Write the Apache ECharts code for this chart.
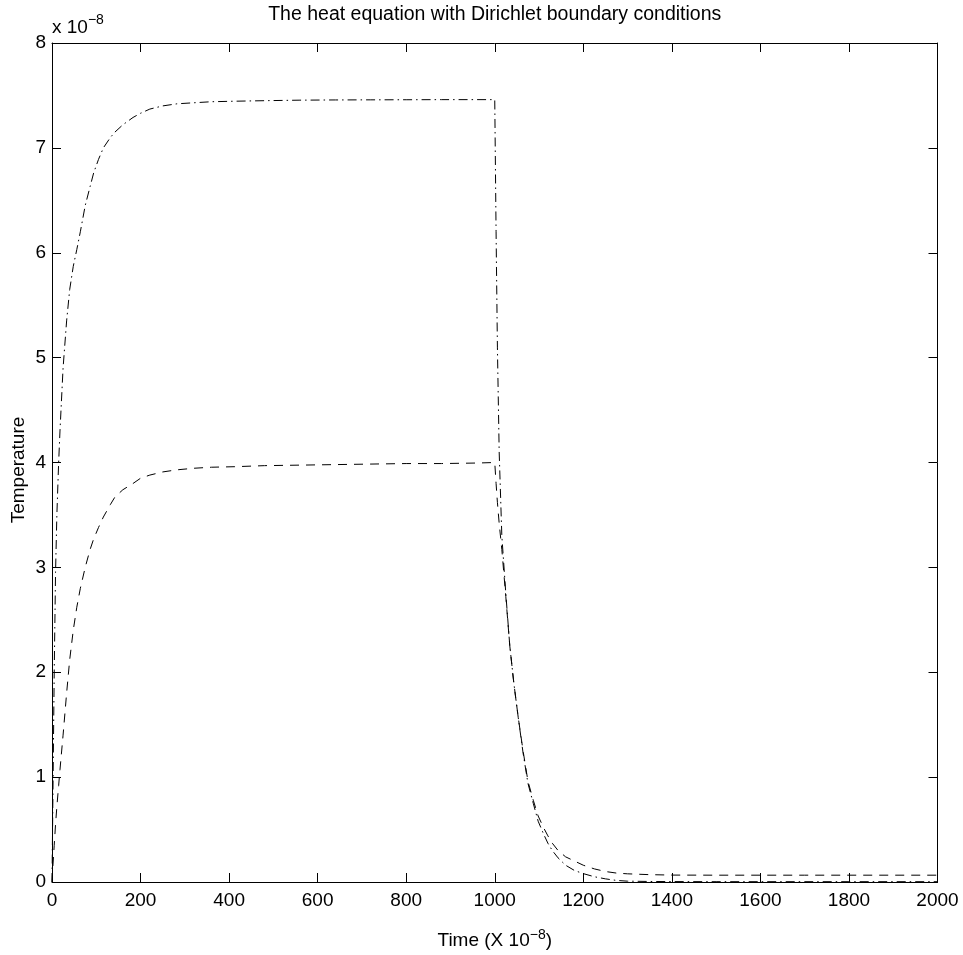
<!DOCTYPE html>
<html>
<head>
<meta charset="utf-8">
<script src="https://cdn.jsdelivr.net/npm/echarts@6/dist/echarts.min.js"></script>
<style>html,body{margin:0;padding:0;background:#fff}#c{width:963px;height:955px}</style>
</head>
<body>
<div id="c"></div>
<script>
// Time samples (units of 1e-8)
const time = [0, 2, 5, 8, 11, 15, 18, 25, 33, 40, 48, 56, 64, 75, 86, 94, 105, 116, 132, 142, 160, 183, 200, 221, 250, 282, 320, 360, 413, 480, 560, 640, 720, 800, 880, 960, 1000,
  1003, 1006, 1010, 1016, 1025, 1034, 1043, 1053, 1064, 1075, 1087, 1098, 1110, 1120, 1130, 1143, 1160, 1180, 1200, 1225, 1250, 1275, 1300, 1350, 1400, 1500, 1600, 1700, 1800, 1900, 2000];
// Temperature values (units of 1e-8), dash-dot curve
const dashDotTemp = [0, 0.8, 2.0, 2.95, 3.5, 4.0, 4.3, 4.9, 5.35, 5.65, 5.87, 6.03, 6.2, 6.45, 6.63, 6.76, 6.89, 7.0, 7.1, 7.15, 7.22, 7.29, 7.33, 7.37, 7.4, 7.42, 7.43, 7.44, 7.445, 7.45, 7.455, 7.457, 7.458, 7.459, 7.46, 7.46, 7.46,
  6.2, 5.1, 4.1, 3.3, 2.75, 2.25, 1.9, 1.57, 1.23, 0.94, 0.75, 0.58, 0.46, 0.37, 0.3, 0.23, 0.16, 0.11, 0.08, 0.05, 0.03, 0.015, 0.008, 0.005, 0.004, 0.003, 0.003, 0.003, 0.003, 0.003, 0.003];
// Temperature values (units of 1e-8), dashed curve
const dashedTemp = [0, 0.15, 0.35, 0.55, 0.72, 0.92, 1.07, 1.4, 1.8, 2.12, 2.4, 2.62, 2.8, 3.0, 3.17, 3.27, 3.38, 3.48, 3.6, 3.67, 3.74, 3.8, 3.85, 3.88, 3.91, 3.93, 3.945, 3.955, 3.96, 3.97, 3.975, 3.98, 3.985, 3.99, 3.99, 3.995, 4.0,
  3.8, 3.62, 3.42, 3.17, 2.72, 2.25, 1.9, 1.57, 1.25, 0.96, 0.78, 0.63, 0.52, 0.44, 0.37, 0.3, 0.24, 0.2, 0.16, 0.125, 0.1, 0.085, 0.078, 0.07, 0.066, 0.065, 0.065, 0.065, 0.065, 0.065, 0.065];

const xMin = 0, xMax = 2000, xStep = 200;
const yMin = 0, yMax = 8, yStep = 1;

const FONT = "'Liberation Sans', Arial, sans-serif";
const chart = echarts.init(document.getElementById('c'), null, {renderer: 'canvas'});

const L = 52, R = 937.5, T = 43, B = 882;
const axisLine = {show: true, onZero: false, lineStyle: {color: '#000', width: 1}};
const tick = {show: true, inside: true, length: 9, lineStyle: {color: '#000', width: 1}};
const lbl = {color: '#000', fontSize: 19, fontFamily: FONT, formatter: (v) => String(v)};

const pairs = (ys) => time.map((t, i) => [t, ys[i]]);

chart.setOption({
  animation: false,
  backgroundColor: '#fff',
  grid: {left: L, right: 963 - R, top: T, bottom: 955 - B, containLabel: false},
  xAxis: [
    {type: 'value', position: 'bottom', min: xMin, max: xMax, interval: xStep,
     axisLine: axisLine, axisTick: tick, splitLine: {show: false},
     axisLabel: Object.assign({margin: 9}, lbl)},
    {type: 'value', position: 'top', min: xMin, max: xMax, interval: xStep,
     axisLine: axisLine, axisTick: tick, splitLine: {show: false}, axisLabel: {show: false}}
  ],
  yAxis: [
    {type: 'value', position: 'left', min: yMin, max: yMax, interval: yStep,
     axisLine: axisLine, axisTick: tick, splitLine: {show: false},
     axisLabel: Object.assign({margin: 6}, lbl)},
    {type: 'value', position: 'right', min: yMin, max: yMax, interval: yStep,
     axisLine: axisLine, axisTick: tick, splitLine: {show: false}, axisLabel: {show: false}}
  ],
  series: [
    {type: 'line', xAxisIndex: 0, yAxisIndex: 0, data: pairs(dashDotTemp), showSymbol: false, symbol: 'none',
     lineStyle: {color: '#000', width: 1, type: [9, 4, 1.5, 4]}},
    {type: 'line', xAxisIndex: 0, yAxisIndex: 0, data: pairs(dashedTemp), showSymbol: false, symbol: 'none',
     lineStyle: {color: '#000', width: 1, type: [9, 7]}}
  ],
  graphic: [
    {type: 'text', x: (L + R) / 2, y: 15, style: {text: 'The heat equation with Dirichlet boundary conditions', align: 'center', verticalAlign: 'middle', fill: '#000', font: '19.5px ' + FONT}},
    {type: 'text', x: 52, y: 13, style: {
      text: '{a|x 10}{s|−8}',
      rich: {a: {fontSize: 19, fontFamily: FONT, fill: '#000', verticalAlign: 'bottom'},
             s: {fontSize: 14, fontFamily: FONT, fill: '#000', verticalAlign: 'top', padding: [0, 0, 10, 0]}}
    }},
    {type: 'text', x: (L + R) / 2, y: 941, style: {
      text: '{a|Time (X 10}{s|−8}{a|)}', align: 'center', verticalAlign: 'middle',
      rich: {a: {fontSize: 19, fontFamily: FONT, fill: '#000'},
             s: {fontSize: 14, fontFamily: FONT, fill: '#000', padding: [0, 0, 12, 0]}}
    }},
    {type: 'text', x: 19, y: 470, rotation: Math.PI / 2, style: {
      text: 'Temperature', align: 'center', verticalAlign: 'middle', fill: '#000', font: '19px ' + FONT
    }}
  ]
});
</script>
</body>
</html>
